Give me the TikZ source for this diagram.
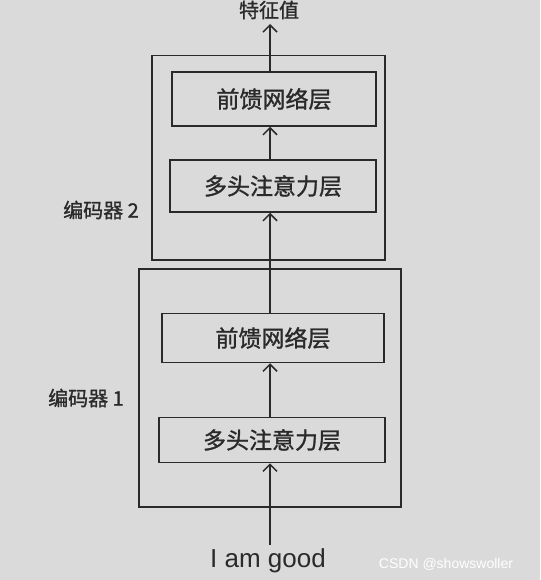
\documentclass[tikz,border=0pt]{standalone}
\usepackage{fontspec}
\setmainfont{Liberation Sans}
\newfontfamily\cjk[FakeBold=1.2]{Noto Sans CJK SC}
\usetikzlibrary{arrows.meta}
\definecolor{paper}{HTML}{DADADA}
\definecolor{ink}{HTML}{2A2A2A}
\tikzset{
  encbox/.style={draw=ink, line width=1.5pt},
  layerbox/.style={draw=ink, line width=1.5pt, fill=paper, inner sep=0pt, text=ink, font=\cjk\fontsize{23}{23}\selectfont},
  flow/.style={draw=ink, line width=1.5pt, -{Straight Barb[length=7pt,width=14pt,line width=1.5pt]}},
  lbl/.style={text=ink, font=\cjk\fontsize{20}{20}\selectfont, inner sep=0pt},
}
\begin{document}
\begin{tikzpicture}[x=1pt,y=-1pt]
\fill[paper] (0,0) rectangle (540,580);
\useasboundingbox (0,0) rectangle (540,580);
% encoder boxes
\node[encbox, minimum width=233pt, minimum height=204pt, anchor=north west] (enc2) at (151,55) {};
\node[encbox, minimum width=262pt, minimum height=238pt, anchor=north west] (enc1) at (138,268) {};
% layers
\node[layerbox, minimum width=204pt, minimum height=54pt] (ffn2) at (274,99) {前馈网络层};
\node[layerbox, minimum width=206pt, minimum height=52pt] (mha2) at (273,186) {多头注意力层};
\node[layerbox, minimum width=222pt, minimum height=49pt] (ffn1) at (273,338) {前馈网络层};
\node[layerbox, minimum width=226pt, minimum height=45pt] (mha1) at (272,440) {多头注意力层};
% labels
\node[lbl] (l2) at (101,210) {编码器 2};
\node[lbl] (l1) at (86,398) {编码器 1};
\node[lbl] (out) at (269,10) {特征值};
\node[text=ink, font=\fontsize{26}{26}\selectfont, inner sep=0pt] (in) at (268,561) {I am good};
\node[text=white, font=\fontsize{14}{14}\selectfont, inner sep=0pt] (wm) at (446,564) {CSDN @showswoller};
% connectors
\coordinate (x0) at (270,0);
\coordinate (outtip) at (270,24);
\draw[flow] (in.north -| x0) ++(0,-4) -- (mha1.south -| x0);
\draw[flow] (mha1.north -| x0) -- (ffn1.south -| x0);
\draw[flow] (ffn1.north -| x0) -- (mha2.south -| x0);
\draw[flow] (mha2.north -| x0) -- (ffn2.south -| x0);
\draw[flow] (ffn2.north -| x0) -- (outtip);
\end{tikzpicture}
\end{document}
